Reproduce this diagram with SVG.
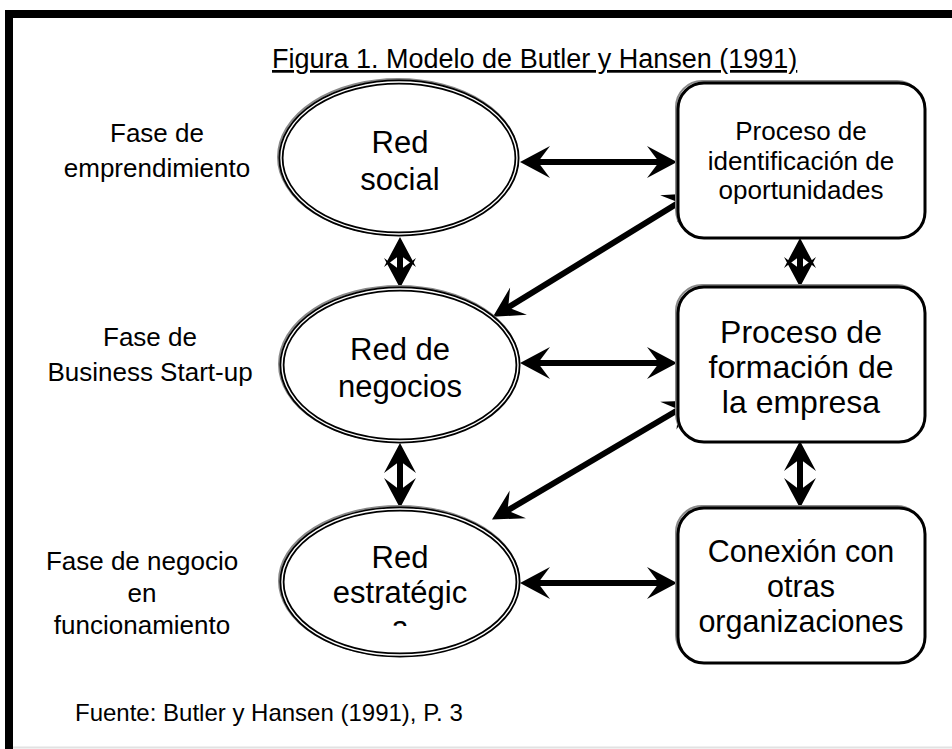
<svg xmlns="http://www.w3.org/2000/svg" width="952" height="749" viewBox="0 0 952 749">
<style>
text{font-family:"Liberation Sans",Arial,sans-serif;fill:#000;text-anchor:middle}
.lab{font-size:26px}
.ell{font-size:31px}
.b1{font-size:26px}
.b2{font-size:32px}
.b3{font-size:30.5px}
.shadow{fill:none;stroke:#8a8a8a;stroke-width:2}
.bx{fill:#fff;stroke:#000;stroke-width:3}
.eo{fill:#fff;stroke:#000;stroke-width:5}
.ei{fill:none;stroke:#fff;stroke-width:1.4}
.con{fill:none;stroke:#000;stroke-width:6}
</style>
<defs>
<marker id="ah" markerUnits="userSpaceOnUse" orient="auto-start-reverse" refX="0" refY="0" markerWidth="40" markerHeight="40" overflow="visible">
<path d="M15,0 L-15,-16 L-3,0 L-15,16 Z" fill="#000"/>
</marker>
<clipPath id="e3clip"><rect x="282" y="500" width="236" height="126"/></clipPath>
</defs>
<rect x="0" y="0" width="952" height="749" fill="#fff"/>
<rect x="9" y="14" width="1000" height="1000" fill="none" stroke="#000" stroke-width="8"/>
<line x1="13" y1="747.5" x2="952" y2="747.5" stroke="#e2e2e2" stroke-width="2"/>

<text id="title" x="272" y="68" style="text-anchor:start;font-size:27px;text-decoration:underline">Figura 1. Modelo de Butler y Hansen (1991)</text>

<g id="labels">
<text class="lab" x="157" y="142">Fase de</text>
<text class="lab" x="157" y="177">emprendimiento</text>
<text class="lab" x="150" y="346">Fase de</text>
<text class="lab" x="150" y="381">Business Start-up</text>
<text class="lab" x="142" y="570">Fase de negocio</text>
<text class="lab" x="142" y="602">en</text>
<text class="lab" x="142" y="634">funcionamiento</text>
</g>

<g id="connectors">
<line class="con" x1="535" y1="162" x2="662" y2="162" marker-start="url(#ah)" marker-end="url(#ah)"/>
<line class="con" x1="681.3" y1="201" x2="505.7" y2="309" marker-start="url(#ah)" marker-end="url(#ah)"/>
<line class="con" x1="400" y1="252" x2="400" y2="273" marker-start="url(#ah)" marker-end="url(#ah)"/>
<line class="con" x1="800" y1="253" x2="800" y2="272" marker-start="url(#ah)" marker-end="url(#ah)"/>
<line class="con" x1="535" y1="363" x2="662" y2="363" marker-start="url(#ah)" marker-end="url(#ah)"/>
<line class="con" x1="681.3" y1="408" x2="504.9" y2="512" marker-start="url(#ah)" marker-end="url(#ah)"/>
<line class="con" x1="400" y1="458" x2="400" y2="493" marker-start="url(#ah)" marker-end="url(#ah)"/>
<line class="con" x1="800" y1="456" x2="800" y2="493" marker-start="url(#ah)" marker-end="url(#ah)"/>
<line class="con" x1="535" y1="583" x2="662" y2="583" marker-start="url(#ah)" marker-end="url(#ah)"/>
</g>

<g id="red-social">
<ellipse class="shadow" cx="398" cy="157" rx="120" ry="78"/>
<ellipse class="eo" cx="399" cy="158" rx="118" ry="76"/>
<ellipse class="ei" cx="399" cy="158" rx="118" ry="76"/>
<text class="ell" x="400" y="153">Red</text>
<text class="ell" x="400" y="190">social</text>
</g>

<g id="red-negocios">
<ellipse class="shadow" cx="399" cy="364" rx="120" ry="78"/>
<ellipse class="eo" cx="400" cy="365" rx="118" ry="76"/>
<ellipse class="ei" cx="400" cy="365" rx="118" ry="76"/>
<text class="ell" x="400" y="360">Red de</text>
<text class="ell" x="400" y="397">negocios</text>
</g>

<g id="red-estrategica">
<ellipse class="shadow" cx="399" cy="581" rx="120" ry="75"/>
<ellipse class="eo" cx="400" cy="582" rx="118" ry="73"/>
<ellipse class="ei" cx="400" cy="582" rx="118" ry="73"/>
<g clip-path="url(#e3clip)">
<text class="ell" x="400" y="568">Red</text>
<text class="ell" x="400" y="603">estratégic</text>
<text class="ell" x="400" y="638">a</text>
</g>
</g>

<g id="proceso-identificacion">
<rect class="shadow" x="676" y="81" width="247" height="155" rx="26"/>
<rect class="bx" x="678" y="83" width="247" height="155" rx="26"/>
<text class="b1" x="801" y="140">Proceso de</text>
<text class="b1" x="801" y="170">identificación de</text>
<text class="b1" x="801" y="199">oportunidades</text>
</g>

<g id="proceso-formacion">
<rect class="shadow" x="676" y="285" width="247" height="155" rx="26"/>
<rect class="bx" x="678" y="287" width="247" height="155" rx="26"/>
<text class="b2" x="801" y="343">Proceso de</text>
<text class="b2" x="801" y="378">formación de</text>
<text class="b2" x="801" y="413">la empresa</text>
</g>

<g id="conexion">
<rect class="shadow" x="676" y="506" width="247" height="155" rx="26"/>
<rect class="bx" x="678" y="508" width="247" height="155" rx="26"/>
<text class="b3" x="801" y="562">Conexión con</text>
<text class="b3" x="801" y="597">otras</text>
<text class="b3" x="801" y="632">organizaciones</text>
</g>

<text id="fuente" x="75" y="721" style="text-anchor:start;font-size:24px">Fuente: Butler y Hansen (1991), P. 3</text>
</svg>
